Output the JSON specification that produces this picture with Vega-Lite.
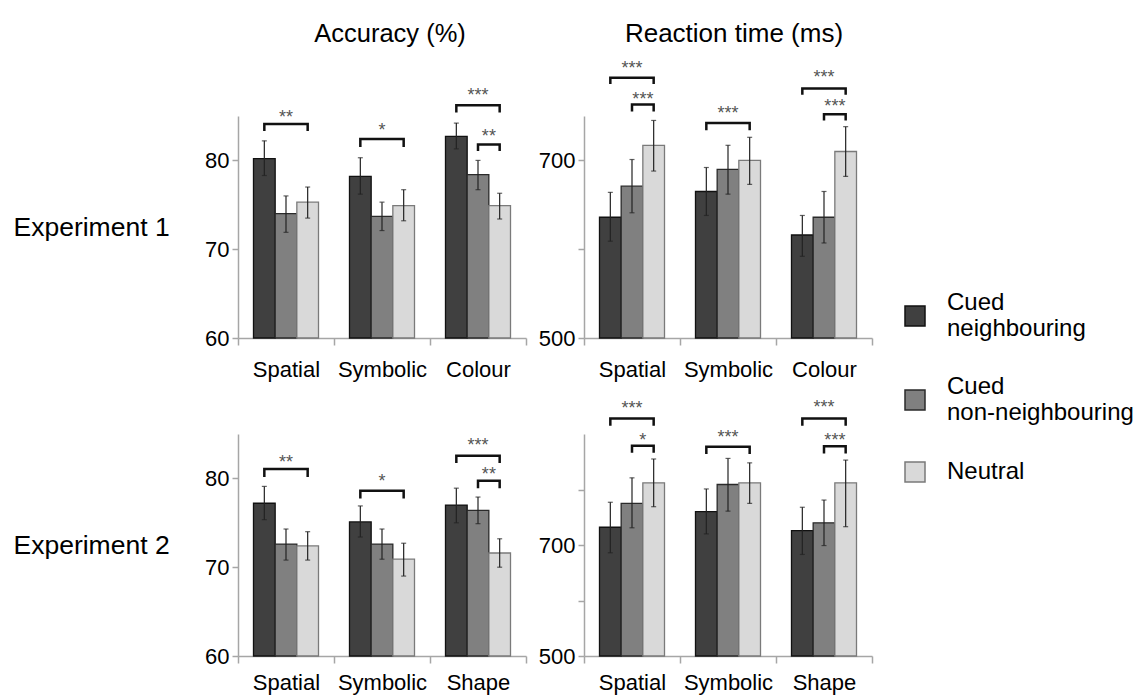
{
  "$schema": "https://vega.github.io/schema/vega-lite/v6.json",
  "padding": {"left": 13, "top": 21, "right": 5, "bottom": 5},
  "config": {
    "font": "Liberation Sans",
    "view": {"stroke": null},
    "axis": {"grid": false, "domainColor": "#a6a6a6", "domainWidth": 1.5, "tickColor": "#a6a6a6", "tickWidth": 1.5, "labelColor": "#000", "labelFont": "Liberation Sans", "labelFontSize": 22, "labelOverlap": false},
    "legend": {"orient": "none", "legendX": 665, "legendY": 188, "gridAlign": "none", "symbolType": "square", "symbolSize": 400, "symbolStrokeColor": "#222", "symbolStrokeWidth": 1.5, "symbolOpacity": 1, "labelFontSize": 24, "labelFont": "Liberation Sans", "labelColor": "#000", "labelOffset": 20, "rowPadding": 34, "labelLimit": 400, "padding": 0}
  },
  "datasets": {
    "bars": [
      {"panel": "acc1", "task": "Spatial", "cond": "Cued neighbouring", "mean": 80.2, "lo": 78.3, "hi": 82.2},
      {"panel": "acc1", "task": "Spatial", "cond": "Cued non-neighbouring", "mean": 74.0, "lo": 71.9, "hi": 76.0},
      {"panel": "acc1", "task": "Spatial", "cond": "Neutral", "mean": 75.3, "lo": 73.5, "hi": 77.0},
      {"panel": "acc1", "task": "Symbolic", "cond": "Cued neighbouring", "mean": 78.2, "lo": 76.2, "hi": 80.3},
      {"panel": "acc1", "task": "Symbolic", "cond": "Cued non-neighbouring", "mean": 73.7, "lo": 72.1, "hi": 75.3},
      {"panel": "acc1", "task": "Symbolic", "cond": "Neutral", "mean": 74.9, "lo": 73.2, "hi": 76.7},
      {"panel": "acc1", "task": "Colour", "cond": "Cued neighbouring", "mean": 82.7, "lo": 81.3, "hi": 84.2},
      {"panel": "acc1", "task": "Colour", "cond": "Cued non-neighbouring", "mean": 78.4, "lo": 76.7, "hi": 80.0},
      {"panel": "acc1", "task": "Colour", "cond": "Neutral", "mean": 74.9, "lo": 73.4, "hi": 76.3},
      {"panel": "rt1", "task": "Spatial", "cond": "Cued neighbouring", "mean": 636, "lo": 609, "hi": 664},
      {"panel": "rt1", "task": "Spatial", "cond": "Cued non-neighbouring", "mean": 671, "lo": 641, "hi": 701},
      {"panel": "rt1", "task": "Spatial", "cond": "Neutral", "mean": 717, "lo": 688, "hi": 745},
      {"panel": "rt1", "task": "Symbolic", "cond": "Cued neighbouring", "mean": 665, "lo": 638, "hi": 692},
      {"panel": "rt1", "task": "Symbolic", "cond": "Cued non-neighbouring", "mean": 690, "lo": 662, "hi": 717},
      {"panel": "rt1", "task": "Symbolic", "cond": "Neutral", "mean": 700, "lo": 673, "hi": 726},
      {"panel": "rt1", "task": "Colour", "cond": "Cued neighbouring", "mean": 616, "lo": 592, "hi": 638},
      {"panel": "rt1", "task": "Colour", "cond": "Cued non-neighbouring", "mean": 636, "lo": 607, "hi": 665},
      {"panel": "rt1", "task": "Colour", "cond": "Neutral", "mean": 710, "lo": 682, "hi": 738},
      {"panel": "acc2", "task": "Spatial", "cond": "Cued neighbouring", "mean": 77.2, "lo": 75.35, "hi": 79.1},
      {"panel": "acc2", "task": "Spatial", "cond": "Cued non-neighbouring", "mean": 72.6, "lo": 70.8, "hi": 74.3},
      {"panel": "acc2", "task": "Spatial", "cond": "Neutral", "mean": 72.4, "lo": 70.8, "hi": 74.0},
      {"panel": "acc2", "task": "Symbolic", "cond": "Cued neighbouring", "mean": 75.1, "lo": 73.4, "hi": 76.9},
      {"panel": "acc2", "task": "Symbolic", "cond": "Cued non-neighbouring", "mean": 72.6, "lo": 70.9, "hi": 74.3},
      {"panel": "acc2", "task": "Symbolic", "cond": "Neutral", "mean": 70.9, "lo": 69.0, "hi": 72.7},
      {"panel": "acc2", "task": "Shape", "cond": "Cued neighbouring", "mean": 77.0, "lo": 75.0, "hi": 78.9},
      {"panel": "acc2", "task": "Shape", "cond": "Cued non-neighbouring", "mean": 76.4, "lo": 74.9, "hi": 77.9},
      {"panel": "acc2", "task": "Shape", "cond": "Neutral", "mean": 71.6, "lo": 70.0, "hi": 73.2},
      {"panel": "rt2", "task": "Spatial", "cond": "Cued neighbouring", "mean": 732, "lo": 686, "hi": 777},
      {"panel": "rt2", "task": "Spatial", "cond": "Cued non-neighbouring", "mean": 775, "lo": 731, "hi": 821},
      {"panel": "rt2", "task": "Spatial", "cond": "Neutral", "mean": 812, "lo": 769, "hi": 855},
      {"panel": "rt2", "task": "Symbolic", "cond": "Cued neighbouring", "mean": 760, "lo": 720, "hi": 801},
      {"panel": "rt2", "task": "Symbolic", "cond": "Cued non-neighbouring", "mean": 809, "lo": 761, "hi": 856},
      {"panel": "rt2", "task": "Symbolic", "cond": "Neutral", "mean": 812, "lo": 775, "hi": 848},
      {"panel": "rt2", "task": "Shape", "cond": "Cued neighbouring", "mean": 726, "lo": 683, "hi": 768},
      {"panel": "rt2", "task": "Shape", "cond": "Cued non-neighbouring", "mean": 740, "lo": 699, "hi": 781},
      {"panel": "rt2", "task": "Shape", "cond": "Neutral", "mean": 812, "lo": 733, "hi": 853}
    ],
    "brackets": [
      {"panel": "acc1", "task": "Spatial", "id": "a1sp", "cond": "Cued neighbouring", "y": 83.3, "ord": 1},
      {"panel": "acc1", "task": "Spatial", "id": "a1sp", "cond": "Cued neighbouring", "y": 84.1, "ord": 2},
      {"panel": "acc1", "task": "Spatial", "id": "a1sp", "cond": "Neutral", "y": 84.1, "ord": 3},
      {"panel": "acc1", "task": "Spatial", "id": "a1sp", "cond": "Neutral", "y": 83.3, "ord": 4},
      {"panel": "acc1", "task": "Symbolic", "id": "a1sy", "cond": "Cued neighbouring", "y": 81.5, "ord": 1},
      {"panel": "acc1", "task": "Symbolic", "id": "a1sy", "cond": "Cued neighbouring", "y": 82.4, "ord": 2},
      {"panel": "acc1", "task": "Symbolic", "id": "a1sy", "cond": "Neutral", "y": 82.4, "ord": 3},
      {"panel": "acc1", "task": "Symbolic", "id": "a1sy", "cond": "Neutral", "y": 81.5, "ord": 4},
      {"panel": "acc1", "task": "Colour", "id": "a1cw", "cond": "Cued neighbouring", "y": 85.4, "ord": 1},
      {"panel": "acc1", "task": "Colour", "id": "a1cw", "cond": "Cued neighbouring", "y": 86.2, "ord": 2},
      {"panel": "acc1", "task": "Colour", "id": "a1cw", "cond": "Neutral", "y": 86.2, "ord": 3},
      {"panel": "acc1", "task": "Colour", "id": "a1cw", "cond": "Neutral", "y": 85.4, "ord": 4},
      {"panel": "acc1", "task": "Colour", "id": "a1cn", "cond": "Cued non-neighbouring", "y": 81.05, "ord": 1},
      {"panel": "acc1", "task": "Colour", "id": "a1cn", "cond": "Cued non-neighbouring", "y": 81.8, "ord": 2},
      {"panel": "acc1", "task": "Colour", "id": "a1cn", "cond": "Neutral", "y": 81.8, "ord": 3},
      {"panel": "acc1", "task": "Colour", "id": "a1cn", "cond": "Neutral", "y": 81.05, "ord": 4},
      {"panel": "rt1", "task": "Spatial", "id": "r1sw", "cond": "Cued neighbouring", "y": 786, "ord": 1},
      {"panel": "rt1", "task": "Spatial", "id": "r1sw", "cond": "Cued neighbouring", "y": 793, "ord": 2},
      {"panel": "rt1", "task": "Spatial", "id": "r1sw", "cond": "Neutral", "y": 793, "ord": 3},
      {"panel": "rt1", "task": "Spatial", "id": "r1sw", "cond": "Neutral", "y": 786, "ord": 4},
      {"panel": "rt1", "task": "Spatial", "id": "r1sn", "cond": "Cued non-neighbouring", "y": 755, "ord": 1},
      {"panel": "rt1", "task": "Spatial", "id": "r1sn", "cond": "Cued non-neighbouring", "y": 763, "ord": 2},
      {"panel": "rt1", "task": "Spatial", "id": "r1sn", "cond": "Neutral", "y": 763, "ord": 3},
      {"panel": "rt1", "task": "Spatial", "id": "r1sn", "cond": "Neutral", "y": 755, "ord": 4},
      {"panel": "rt1", "task": "Symbolic", "id": "r1yw", "cond": "Cued neighbouring", "y": 734, "ord": 1},
      {"panel": "rt1", "task": "Symbolic", "id": "r1yw", "cond": "Cued neighbouring", "y": 742, "ord": 2},
      {"panel": "rt1", "task": "Symbolic", "id": "r1yw", "cond": "Neutral", "y": 742, "ord": 3},
      {"panel": "rt1", "task": "Symbolic", "id": "r1yw", "cond": "Neutral", "y": 734, "ord": 4},
      {"panel": "rt1", "task": "Colour", "id": "r1cw", "cond": "Cued neighbouring", "y": 774, "ord": 1},
      {"panel": "rt1", "task": "Colour", "id": "r1cw", "cond": "Cued neighbouring", "y": 781, "ord": 2},
      {"panel": "rt1", "task": "Colour", "id": "r1cw", "cond": "Neutral", "y": 781, "ord": 3},
      {"panel": "rt1", "task": "Colour", "id": "r1cw", "cond": "Neutral", "y": 774, "ord": 4},
      {"panel": "rt1", "task": "Colour", "id": "r1cn", "cond": "Cued non-neighbouring", "y": 745, "ord": 1},
      {"panel": "rt1", "task": "Colour", "id": "r1cn", "cond": "Cued non-neighbouring", "y": 752, "ord": 2},
      {"panel": "rt1", "task": "Colour", "id": "r1cn", "cond": "Neutral", "y": 752, "ord": 3},
      {"panel": "rt1", "task": "Colour", "id": "r1cn", "cond": "Neutral", "y": 745, "ord": 4},
      {"panel": "acc2", "task": "Spatial", "id": "a2sp", "cond": "Cued neighbouring", "y": 80.15, "ord": 1},
      {"panel": "acc2", "task": "Spatial", "id": "a2sp", "cond": "Cued neighbouring", "y": 81.05, "ord": 2},
      {"panel": "acc2", "task": "Spatial", "id": "a2sp", "cond": "Neutral", "y": 81.05, "ord": 3},
      {"panel": "acc2", "task": "Spatial", "id": "a2sp", "cond": "Neutral", "y": 80.15, "ord": 4},
      {"panel": "acc2", "task": "Symbolic", "id": "a2sy", "cond": "Cued neighbouring", "y": 77.75, "ord": 1},
      {"panel": "acc2", "task": "Symbolic", "id": "a2sy", "cond": "Cued neighbouring", "y": 78.6, "ord": 2},
      {"panel": "acc2", "task": "Symbolic", "id": "a2sy", "cond": "Neutral", "y": 78.6, "ord": 3},
      {"panel": "acc2", "task": "Symbolic", "id": "a2sy", "cond": "Neutral", "y": 77.75, "ord": 4},
      {"panel": "acc2", "task": "Shape", "id": "a2hw", "cond": "Cued neighbouring", "y": 81.73, "ord": 1},
      {"panel": "acc2", "task": "Shape", "id": "a2hw", "cond": "Cued neighbouring", "y": 82.55, "ord": 2},
      {"panel": "acc2", "task": "Shape", "id": "a2hw", "cond": "Neutral", "y": 82.55, "ord": 3},
      {"panel": "acc2", "task": "Shape", "id": "a2hw", "cond": "Neutral", "y": 81.73, "ord": 4},
      {"panel": "acc2", "task": "Shape", "id": "a2hn", "cond": "Cued non-neighbouring", "y": 78.9, "ord": 1},
      {"panel": "acc2", "task": "Shape", "id": "a2hn", "cond": "Cued non-neighbouring", "y": 79.74, "ord": 2},
      {"panel": "acc2", "task": "Shape", "id": "a2hn", "cond": "Neutral", "y": 79.74, "ord": 3},
      {"panel": "acc2", "task": "Shape", "id": "a2hn", "cond": "Neutral", "y": 78.9, "ord": 4},
      {"panel": "rt2", "task": "Spatial", "id": "r2sw", "cond": "Cued neighbouring", "y": 915, "ord": 1},
      {"panel": "rt2", "task": "Spatial", "id": "r2sw", "cond": "Cued neighbouring", "y": 928, "ord": 2},
      {"panel": "rt2", "task": "Spatial", "id": "r2sw", "cond": "Neutral", "y": 928, "ord": 3},
      {"panel": "rt2", "task": "Spatial", "id": "r2sw", "cond": "Neutral", "y": 915, "ord": 4},
      {"panel": "rt2", "task": "Spatial", "id": "r2sn", "cond": "Cued non-neighbouring", "y": 866, "ord": 1},
      {"panel": "rt2", "task": "Spatial", "id": "r2sn", "cond": "Cued non-neighbouring", "y": 879, "ord": 2},
      {"panel": "rt2", "task": "Spatial", "id": "r2sn", "cond": "Neutral", "y": 879, "ord": 3},
      {"panel": "rt2", "task": "Spatial", "id": "r2sn", "cond": "Neutral", "y": 866, "ord": 4},
      {"panel": "rt2", "task": "Symbolic", "id": "r2yw", "cond": "Cued neighbouring", "y": 864, "ord": 1},
      {"panel": "rt2", "task": "Symbolic", "id": "r2yw", "cond": "Cued neighbouring", "y": 877, "ord": 2},
      {"panel": "rt2", "task": "Symbolic", "id": "r2yw", "cond": "Neutral", "y": 877, "ord": 3},
      {"panel": "rt2", "task": "Symbolic", "id": "r2yw", "cond": "Neutral", "y": 864, "ord": 4},
      {"panel": "rt2", "task": "Shape", "id": "r2hw", "cond": "Cued neighbouring", "y": 915, "ord": 1},
      {"panel": "rt2", "task": "Shape", "id": "r2hw", "cond": "Cued neighbouring", "y": 928, "ord": 2},
      {"panel": "rt2", "task": "Shape", "id": "r2hw", "cond": "Neutral", "y": 928, "ord": 3},
      {"panel": "rt2", "task": "Shape", "id": "r2hw", "cond": "Neutral", "y": 915, "ord": 4},
      {"panel": "rt2", "task": "Shape", "id": "r2hn", "cond": "Cued non-neighbouring", "y": 865, "ord": 1},
      {"panel": "rt2", "task": "Shape", "id": "r2hn", "cond": "Cued non-neighbouring", "y": 878, "ord": 2},
      {"panel": "rt2", "task": "Shape", "id": "r2hn", "cond": "Neutral", "y": 878, "ord": 3},
      {"panel": "rt2", "task": "Shape", "id": "r2hn", "cond": "Neutral", "y": 865, "ord": 4}
    ],
    "stars": [
      {"panel": "acc1", "task": "Spatial", "cond": "Cued non-neighbouring", "span": "wide", "y": 85.3, "label": "**"},
      {"panel": "acc1", "task": "Symbolic", "cond": "Cued non-neighbouring", "span": "wide", "y": 83.9, "label": "*"},
      {"panel": "acc1", "task": "Colour", "cond": "Cued non-neighbouring", "span": "wide", "y": 87.8, "label": "***"},
      {"panel": "acc1", "task": "Colour", "cond": "Neutral", "span": "narrow", "y": 83.2, "label": "**"},
      {"panel": "rt1", "task": "Spatial", "cond": "Cued non-neighbouring", "span": "wide", "y": 808, "label": "***"},
      {"panel": "rt1", "task": "Spatial", "cond": "Neutral", "span": "narrow", "y": 774, "label": "***"},
      {"panel": "rt1", "task": "Symbolic", "cond": "Cued non-neighbouring", "span": "wide", "y": 758, "label": "***"},
      {"panel": "rt1", "task": "Colour", "cond": "Cued non-neighbouring", "span": "wide", "y": 798, "label": "***"},
      {"panel": "rt1", "task": "Colour", "cond": "Neutral", "span": "narrow", "y": 766, "label": "***"},
      {"panel": "acc2", "task": "Spatial", "cond": "Cued non-neighbouring", "span": "wide", "y": 82.3, "label": "**"},
      {"panel": "acc2", "task": "Symbolic", "cond": "Cued non-neighbouring", "span": "wide", "y": 80.2, "label": "*"},
      {"panel": "acc2", "task": "Shape", "cond": "Cued non-neighbouring", "span": "wide", "y": 84.2, "label": "***"},
      {"panel": "acc2", "task": "Shape", "cond": "Neutral", "span": "narrow", "y": 80.9, "label": "**"},
      {"panel": "rt2", "task": "Spatial", "cond": "Cued non-neighbouring", "span": "wide", "y": 954, "label": "***"},
      {"panel": "rt2", "task": "Spatial", "cond": "Neutral", "span": "narrow", "y": 896, "label": "*"},
      {"panel": "rt2", "task": "Symbolic", "cond": "Cued non-neighbouring", "span": "wide", "y": 902, "label": "***"},
      {"panel": "rt2", "task": "Shape", "cond": "Cued non-neighbouring", "span": "wide", "y": 955, "label": "***"},
      {"panel": "rt2", "task": "Shape", "cond": "Neutral", "span": "narrow", "y": 896, "label": "***"}
    ]
  },
  "columns": 2,
  "spacing": {"row": 96, "column": 58},
  "bounds": "flush",
  "concat": [
    {
      "width": 288, "height": 222,
      "title": {"text": "Accuracy (%)", "fontSize": 25.5, "fontWeight": "normal", "color": "#000", "frame": "group", "offset": 40, "dx": 8},
      "encoding": {
        "x": {"field": "task", "type": "nominal", "sort": ["Spatial", "Symbolic", "Colour"], "scale": {"paddingInner": 0, "paddingOuter": 0}, "axis": {"title": null, "labelAngle": 0, "tickBand": "extent", "tickSize": 7, "labelPadding": 14}},
        "xOffset": {"field": "cond", "type": "nominal", "sort": ["Cued neighbouring", "Cued non-neighbouring", "Neutral"], "scale": {"paddingInner": 0, "paddingOuter": 0.715}}
      },
      "layer": [
        {"data": {"name": "bars"}, "transform": [{"filter": "datum.panel == 'acc1'"}],
         "mark": {"type": "bar", "strokeWidth": 1.3},
         "encoding": {
           "y": {"field": "mean", "type": "quantitative", "scale": {"domain": [60, 85], "nice": false, "zero": false}, "axis": {"values": [60, 70, 80], "tickSize": 6, "labelPadding": 3, "title": "Experiment 1", "titleAngle": 0, "titleAlign": "left", "titleBaseline": "middle", "titleX": -225, "titleY": 111, "titleFontSize": 26.5, "titleFontWeight": "normal", "titleColor": "#000", "titleFont": "Liberation Sans"}},
           "y2": {"datum": 60},
           "fill": {"field": "cond", "type": "nominal", "scale": {"domain": ["Cued neighbouring", "Cued non-neighbouring", "Neutral"], "range": ["#404040", "#808080", "#d9d9d9"]}, "legend": {"title": null, "labelExpr": "split(datum.label, ' ')", "encode": {"labels": {"update": {"dy": {"signal": "datum.value == 'Neutral' ? 0 : -13"}}}}}},
           "stroke": {"field": "cond", "type": "nominal", "scale": {"domain": ["Cued neighbouring", "Cued non-neighbouring", "Neutral"], "range": ["#111111", "#2a2a2a", "#7a7a7a"]}, "legend": null}
         }},
        {"data": {"name": "bars"}, "transform": [{"filter": "datum.panel == 'acc1'"}],
         "mark": {"type": "rule", "color": "#222", "strokeWidth": 1.2},
         "encoding": {"y": {"field": "lo", "type": "quantitative"}, "y2": {"field": "hi"}}},
        {"data": {"name": "bars"}, "transform": [{"filter": "datum.panel == 'acc1'"}],
         "mark": {"type": "tick", "color": "#222", "orient": "horizontal", "size": 5, "thickness": 1.2},
         "encoding": {"y": {"field": "hi", "type": "quantitative"}}},
        {"data": {"name": "bars"}, "transform": [{"filter": "datum.panel == 'acc1'"}],
         "mark": {"type": "tick", "color": "#222", "orient": "horizontal", "size": 5, "thickness": 1.2},
         "encoding": {"y": {"field": "lo", "type": "quantitative"}}},
        {"data": {"name": "brackets"}, "transform": [{"filter": "datum.panel == 'acc1'"}],
         "mark": {"type": "line", "color": "#111", "strokeWidth": 2.5},
         "encoding": {"y": {"field": "y", "type": "quantitative"}, "detail": {"field": "id"}, "order": {"field": "ord"}}},
        {"data": {"name": "stars"}, "transform": [{"filter": "datum.panel == 'acc1' && datum.span == 'wide'"}],
         "mark": {"type": "text", "color": "#555", "fontSize": 18, "baseline": "alphabetic", "dy": 10},
         "encoding": {"y": {"field": "y", "type": "quantitative"}, "text": {"field": "label"}}},
        {"data": {"name": "stars"}, "transform": [{"filter": "datum.panel == 'acc1' && datum.span == 'narrow'"}],
         "mark": {"type": "text", "color": "#555", "fontSize": 18, "baseline": "alphabetic", "dy": 10, "dx": -10.8},
         "encoding": {"y": {"field": "y", "type": "quantitative"}, "text": {"field": "label"}}}
      ]
    },
    {
      "width": 288, "height": 222,
      "title": {"text": "Reaction time (ms)", "fontSize": 26, "fontWeight": "normal", "color": "#000", "frame": "group", "offset": 13, "dx": 6},
      "encoding": {
        "x": {"field": "task", "type": "nominal", "sort": ["Spatial", "Symbolic", "Colour"], "scale": {"paddingInner": 0, "paddingOuter": 0}, "axis": {"title": null, "labelAngle": 0, "tickBand": "extent", "tickSize": 7, "labelPadding": 14}},
        "xOffset": {"field": "cond", "type": "nominal", "sort": ["Cued neighbouring", "Cued non-neighbouring", "Neutral"], "scale": {"paddingInner": 0, "paddingOuter": 0.715}}
      },
      "layer": [
        {"data": {"name": "bars"}, "transform": [{"filter": "datum.panel == 'rt1'"}],
         "mark": {"type": "bar", "strokeWidth": 1.3},
         "encoding": {
           "y": {"field": "mean", "type": "quantitative", "scale": {"domain": [500, 750], "nice": false, "zero": false}, "axis": {"values": [500, 600, 700], "labelExpr": "datum.value == 600 ? '' : datum.label", "tickSize": 6, "labelPadding": 3, "title": null}},
           "y2": {"datum": 500},
           "fill": {"field": "cond", "type": "nominal", "scale": {"domain": ["Cued neighbouring", "Cued non-neighbouring", "Neutral"], "range": ["#404040", "#808080", "#d9d9d9"]}, "legend": {"title": null, "labelExpr": "split(datum.label, ' ')", "encode": {"labels": {"update": {"dy": {"signal": "datum.value == 'Neutral' ? 0 : -13"}}}}}},
           "stroke": {"field": "cond", "type": "nominal", "scale": {"domain": ["Cued neighbouring", "Cued non-neighbouring", "Neutral"], "range": ["#111111", "#2a2a2a", "#7a7a7a"]}, "legend": null}
         }},
        {"data": {"name": "bars"}, "transform": [{"filter": "datum.panel == 'rt1'"}],
         "mark": {"type": "rule", "color": "#222", "strokeWidth": 1.2},
         "encoding": {"y": {"field": "lo", "type": "quantitative"}, "y2": {"field": "hi"}}},
        {"data": {"name": "bars"}, "transform": [{"filter": "datum.panel == 'rt1'"}],
         "mark": {"type": "tick", "color": "#222", "orient": "horizontal", "size": 5, "thickness": 1.2},
         "encoding": {"y": {"field": "hi", "type": "quantitative"}}},
        {"data": {"name": "bars"}, "transform": [{"filter": "datum.panel == 'rt1'"}],
         "mark": {"type": "tick", "color": "#222", "orient": "horizontal", "size": 5, "thickness": 1.2},
         "encoding": {"y": {"field": "lo", "type": "quantitative"}}},
        {"data": {"name": "brackets"}, "transform": [{"filter": "datum.panel == 'rt1'"}],
         "mark": {"type": "line", "color": "#111", "strokeWidth": 2.5},
         "encoding": {"y": {"field": "y", "type": "quantitative"}, "detail": {"field": "id"}, "order": {"field": "ord"}}},
        {"data": {"name": "stars"}, "transform": [{"filter": "datum.panel == 'rt1' && datum.span == 'wide'"}],
         "mark": {"type": "text", "color": "#555", "fontSize": 18, "baseline": "alphabetic", "dy": 10},
         "encoding": {"y": {"field": "y", "type": "quantitative"}, "text": {"field": "label"}}},
        {"data": {"name": "stars"}, "transform": [{"filter": "datum.panel == 'rt1' && datum.span == 'narrow'"}],
         "mark": {"type": "text", "color": "#555", "fontSize": 18, "baseline": "alphabetic", "dy": 10, "dx": -10.8},
         "encoding": {"y": {"field": "y", "type": "quantitative"}, "text": {"field": "label"}}}
      ]
    },
    {
      "width": 288, "height": 222,
      "encoding": {
        "x": {"field": "task", "type": "nominal", "sort": ["Spatial", "Symbolic", "Shape"], "scale": {"paddingInner": 0, "paddingOuter": 0}, "axis": {"title": null, "labelAngle": 0, "tickBand": "extent", "tickSize": 7, "labelPadding": 9}},
        "xOffset": {"field": "cond", "type": "nominal", "sort": ["Cued neighbouring", "Cued non-neighbouring", "Neutral"], "scale": {"paddingInner": 0, "paddingOuter": 0.715}}
      },
      "layer": [
        {"data": {"name": "bars"}, "transform": [{"filter": "datum.panel == 'acc2'"}],
         "mark": {"type": "bar", "strokeWidth": 1.3},
         "encoding": {
           "y": {"field": "mean", "type": "quantitative", "scale": {"domain": [60, 85], "nice": false, "zero": false}, "axis": {"values": [60, 70, 80], "tickSize": 6, "labelPadding": 3, "title": "Experiment 2", "titleAngle": 0, "titleAlign": "left", "titleBaseline": "middle", "titleX": -225, "titleY": 111, "titleFontSize": 26.5, "titleFontWeight": "normal", "titleColor": "#000", "titleFont": "Liberation Sans"}},
           "y2": {"datum": 60},
           "fill": {"field": "cond", "type": "nominal", "scale": {"domain": ["Cued neighbouring", "Cued non-neighbouring", "Neutral"], "range": ["#404040", "#808080", "#d9d9d9"]}, "legend": {"title": null, "labelExpr": "split(datum.label, ' ')", "encode": {"labels": {"update": {"dy": {"signal": "datum.value == 'Neutral' ? 0 : -13"}}}}}},
           "stroke": {"field": "cond", "type": "nominal", "scale": {"domain": ["Cued neighbouring", "Cued non-neighbouring", "Neutral"], "range": ["#111111", "#2a2a2a", "#7a7a7a"]}, "legend": null}
         }},
        {"data": {"name": "bars"}, "transform": [{"filter": "datum.panel == 'acc2'"}],
         "mark": {"type": "rule", "color": "#222", "strokeWidth": 1.2},
         "encoding": {"y": {"field": "lo", "type": "quantitative"}, "y2": {"field": "hi"}}},
        {"data": {"name": "bars"}, "transform": [{"filter": "datum.panel == 'acc2'"}],
         "mark": {"type": "tick", "color": "#222", "orient": "horizontal", "size": 5, "thickness": 1.2},
         "encoding": {"y": {"field": "hi", "type": "quantitative"}}},
        {"data": {"name": "bars"}, "transform": [{"filter": "datum.panel == 'acc2'"}],
         "mark": {"type": "tick", "color": "#222", "orient": "horizontal", "size": 5, "thickness": 1.2},
         "encoding": {"y": {"field": "lo", "type": "quantitative"}}},
        {"data": {"name": "brackets"}, "transform": [{"filter": "datum.panel == 'acc2'"}],
         "mark": {"type": "line", "color": "#111", "strokeWidth": 2.5},
         "encoding": {"y": {"field": "y", "type": "quantitative"}, "detail": {"field": "id"}, "order": {"field": "ord"}}},
        {"data": {"name": "stars"}, "transform": [{"filter": "datum.panel == 'acc2' && datum.span == 'wide'"}],
         "mark": {"type": "text", "color": "#555", "fontSize": 18, "baseline": "alphabetic", "dy": 10},
         "encoding": {"y": {"field": "y", "type": "quantitative"}, "text": {"field": "label"}}},
        {"data": {"name": "stars"}, "transform": [{"filter": "datum.panel == 'acc2' && datum.span == 'narrow'"}],
         "mark": {"type": "text", "color": "#555", "fontSize": 18, "baseline": "alphabetic", "dy": 10, "dx": -10.8},
         "encoding": {"y": {"field": "y", "type": "quantitative"}, "text": {"field": "label"}}}
      ]
    },
    {
      "width": 288, "height": 222,
      "encoding": {
        "x": {"field": "task", "type": "nominal", "sort": ["Spatial", "Symbolic", "Shape"], "scale": {"paddingInner": 0, "paddingOuter": 0}, "axis": {"title": null, "labelAngle": 0, "tickBand": "extent", "tickSize": 7, "labelPadding": 9}},
        "xOffset": {"field": "cond", "type": "nominal", "sort": ["Cued neighbouring", "Cued non-neighbouring", "Neutral"], "scale": {"paddingInner": 0, "paddingOuter": 0.715}}
      },
      "layer": [
        {"data": {"name": "bars"}, "transform": [{"filter": "datum.panel == 'rt2'"}],
         "mark": {"type": "bar", "strokeWidth": 1.3},
         "encoding": {
           "y": {"field": "mean", "type": "quantitative", "scale": {"domain": [500, 900], "nice": false, "zero": false}, "axis": {"values": [500, 600, 700, 800], "labelExpr": "datum.value == 600 || datum.value == 800 ? '' : datum.label", "tickSize": 6, "labelPadding": 3, "title": null}},
           "y2": {"datum": 500},
           "fill": {"field": "cond", "type": "nominal", "scale": {"domain": ["Cued neighbouring", "Cued non-neighbouring", "Neutral"], "range": ["#404040", "#808080", "#d9d9d9"]}, "legend": {"title": null, "labelExpr": "split(datum.label, ' ')", "encode": {"labels": {"update": {"dy": {"signal": "datum.value == 'Neutral' ? 0 : -13"}}}}}},
           "stroke": {"field": "cond", "type": "nominal", "scale": {"domain": ["Cued neighbouring", "Cued non-neighbouring", "Neutral"], "range": ["#111111", "#2a2a2a", "#7a7a7a"]}, "legend": null}
         }},
        {"data": {"name": "bars"}, "transform": [{"filter": "datum.panel == 'rt2'"}],
         "mark": {"type": "rule", "color": "#222", "strokeWidth": 1.2},
         "encoding": {"y": {"field": "lo", "type": "quantitative"}, "y2": {"field": "hi"}}},
        {"data": {"name": "bars"}, "transform": [{"filter": "datum.panel == 'rt2'"}],
         "mark": {"type": "tick", "color": "#222", "orient": "horizontal", "size": 5, "thickness": 1.2},
         "encoding": {"y": {"field": "hi", "type": "quantitative"}}},
        {"data": {"name": "bars"}, "transform": [{"filter": "datum.panel == 'rt2'"}],
         "mark": {"type": "tick", "color": "#222", "orient": "horizontal", "size": 5, "thickness": 1.2},
         "encoding": {"y": {"field": "lo", "type": "quantitative"}}},
        {"data": {"name": "brackets"}, "transform": [{"filter": "datum.panel == 'rt2'"}],
         "mark": {"type": "line", "color": "#111", "strokeWidth": 2.5},
         "encoding": {"y": {"field": "y", "type": "quantitative"}, "detail": {"field": "id"}, "order": {"field": "ord"}}},
        {"data": {"name": "stars"}, "transform": [{"filter": "datum.panel == 'rt2' && datum.span == 'wide'"}],
         "mark": {"type": "text", "color": "#555", "fontSize": 18, "baseline": "alphabetic", "dy": 10},
         "encoding": {"y": {"field": "y", "type": "quantitative"}, "text": {"field": "label"}}},
        {"data": {"name": "stars"}, "transform": [{"filter": "datum.panel == 'rt2' && datum.span == 'narrow'"}],
         "mark": {"type": "text", "color": "#555", "fontSize": 18, "baseline": "alphabetic", "dy": 10, "dx": -10.8},
         "encoding": {"y": {"field": "y", "type": "quantitative"}, "text": {"field": "label"}}}
      ]
    }
  ]
}
